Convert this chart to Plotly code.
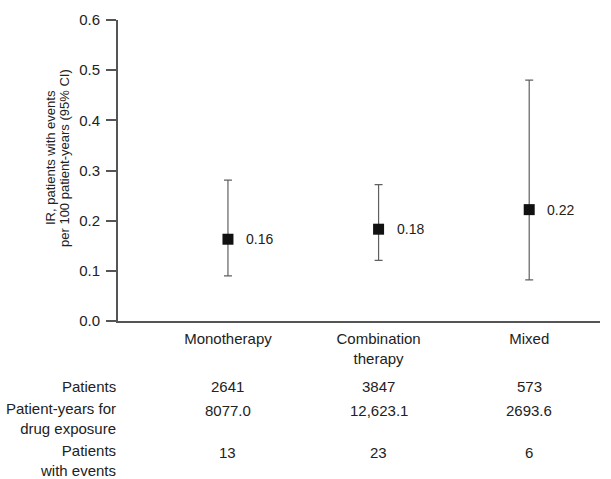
import plotly.graph_objects as go

categories = ["Monotherapy", "Combination<br>therapy", "Mixed"]
ir = [0.163, 0.183, 0.222]
ci_upper = [0.281, 0.272, 0.480]
ci_lower = [0.090, 0.121, 0.082]
ir_labels = ["0.16", "0.18", "0.22"]

title_lines = ["IR, patients with events", "per 100 patient-years (95% CI)"]
row_labels = ["Patients", "Patient-years for<br>drug exposure", "Patients<br>with events"]
patients = ["2641", "3847", "573"]
patient_years = ["8077.0", "12,623.1", "2693.6"]
patients_events = ["13", "23", "6"]

FONT = "Liberation Sans, Arial, Helvetica, sans-serif"
TXT = "#222222"
AX = "#555555"

L, R, T, B = 118, 11, 20, 158
W, H = 611, 479
plot_h = H - T - B
plot_w = W - L - R

def ypaper(ypix):
    return (H - B - ypix) / plot_h

def xpaper(xpix):
    return (xpix - L) / plot_w

fig = go.Figure()
fig.add_trace(go.Scatter(
    x=categories, y=ir, mode="markers",
    marker=dict(symbol="square", size=11, color="#111111"),
    error_y=dict(type="data", symmetric=False,
                 array=[u - v for u, v in zip(ci_upper, ir)],
                 arrayminus=[v - l for v, l in zip(ir, ci_lower)],
                 color="#606060", thickness=1.2, width=4),
    showlegend=False, hoverinfo="skip",
))

ann = []
for c, v, t in zip(categories, ir, ir_labels):
    ann.append(dict(x=c, y=v, xref="x", yref="y", text=t, showarrow=False,
                    xanchor="left", yanchor="middle", xshift=16,
                    font=dict(family=FONT, size=14, color=TXT)))

# y-axis title, two lines placed individually
for line, xp in zip(title_lines, [50, 64]):
    ann.append(dict(x=xpaper(xp), y=ypaper(158), xref="paper", yref="paper",
                    text=line, textangle=-90, showarrow=False,
                    xanchor="center", yanchor="middle",
                    font=dict(family=FONT, size=13, color=TXT)))

row_y = [387, 418, 460]
for lab, yy in zip(row_labels, row_y):
    ann.append(dict(x=xpaper(118), y=ypaper(yy), xref="paper", yref="paper",
                    text=lab, showarrow=False, xanchor="right", yanchor="middle",
                    align="right", font=dict(family=FONT, size=15, color=TXT)))

for vals, yy in zip([patients, patient_years, patients_events], [387, 410, 452]):
    for c, v in zip(categories, vals):
        ann.append(dict(x=c, y=ypaper(yy), xref="x", yref="paper", text=v,
                        showarrow=False, xanchor="center", yanchor="middle",
                        font=dict(family=FONT, size=15, color=TXT)))

fig.update_layout(
    width=W, height=H,
    margin=dict(l=L, r=R, t=T, b=B),
    paper_bgcolor="white", plot_bgcolor="white",
    font=dict(family=FONT, size=15, color=TXT),
    annotations=ann,
    xaxis=dict(type="category", range=[-0.73, 2.47], showgrid=False, zeroline=False,
               showline=True, linecolor=AX, linewidth=2, ticks="",
               ticklabelstandoff=3,
               tickfont=dict(family=FONT, size=15, color=TXT)),
    yaxis=dict(range=[0, 0.6], dtick=0.1, tickformat=".1f", showgrid=False,
               zeroline=False, showline=True, linecolor=AX, linewidth=2,
               ticks="outside", ticklen=10, tickcolor=AX, tickwidth=1.5,
               ticklabelstandoff=3,
               tickfont=dict(family=FONT, size=15, color=TXT)),
)

fig.write_html("out.html")
